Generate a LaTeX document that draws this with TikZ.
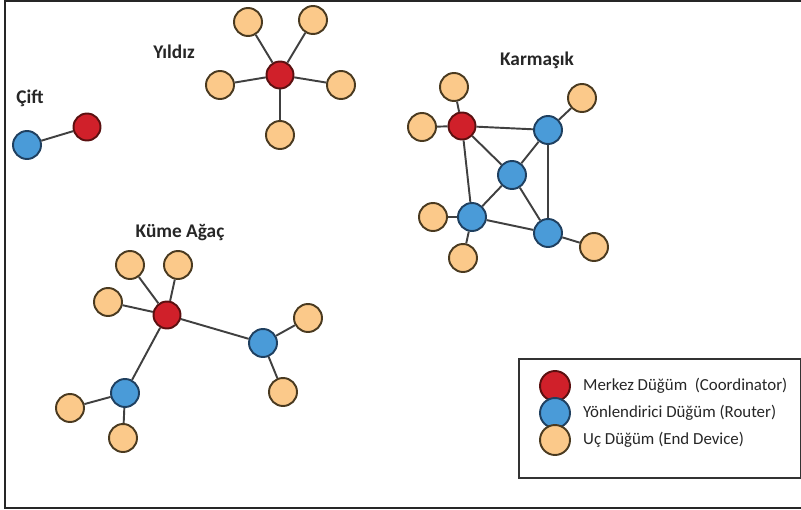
\documentclass[tikz,border=0pt]{standalone}
\usepackage{fontspec}
\setmainfont{Carlito}
\usepackage{tikz}
\usetikzlibrary{positioning}
\usepackage{xcolor}
\definecolor{zbCoord}{HTML}{D0202A}
\definecolor{zbCoordBorder}{HTML}{5A1010}
\definecolor{zbRouter}{HTML}{4A9BD8}
\definecolor{zbRouterBorder}{HTML}{1F4060}
\definecolor{zbEnd}{HTML}{FBC98A}
\definecolor{zbEndBorder}{HTML}{4A3A20}
\definecolor{zbLink}{HTML}{404040}
\tikzset{
    coord/.style={circle,draw=zbCoordBorder,fill=zbCoord,line width=1.1pt,minimum size=0.54cm,inner sep=0pt},
    router/.style={circle,draw=zbRouterBorder,fill=zbRouter,line width=1.1pt,minimum size=0.56cm,inner sep=0pt},
    enddev/.style={circle,draw=zbEndBorder,fill=zbEnd,line width=1.1pt,minimum size=0.56cm,inner sep=0pt},
    link/.style={draw=zbLink,line width=1.1pt},
    toplabel/.style={font=\bfseries\fontsize{11}{13}\selectfont,text=black!85}
}

\begin{document}
\begin{tikzpicture}[x=0.02cm,y=-0.02cm,
    legtext/.style={font=\fontsize{9.6}{12}\selectfont,anchor=west,text=black!85}]

\useasboundingbox (0,0) rectangle (801,510);
\draw[line width=1.2pt,black!85] (5,1) rectangle (804,508);

% Cift
\node[toplabel] at (30,98) (lblCift) {Çift};
\node[router] at (27,145) (ciftR) {};
\node[coord] at (87,127) (ciftC) {};
\draw[link] (ciftR) -- (ciftC);

% Yildiz
\node[toplabel] at (174,52) (lblYildiz) {Yıldız};
\node[coord] at (280,75) (yC) {};
\node[enddev] at (248,22) (yE1) {};
\node[enddev] at (313,20) (yE2) {};
\node[enddev] at (220,85) (yE3) {};
\node[enddev] at (341,85) (yE4) {};
\node[enddev] at (280,135) (yE5) {};
\foreach \e in {yE1,yE2,yE3,yE4,yE5}
    \draw[link] (yC) -- (\e);

% Karmasik
\node[toplabel] at (537,60) (lblKarma) {Karmaşık};
\node[coord] at (462,126) (kC) {};
\node[router] at (548,130) (kR1) {};
\node[router] at (512,175) (kR2) {};
\node[router] at (472,217) (kR3) {};
\node[router] at (548,233) (kR4) {};
\node[enddev] at (454,87) (kE1) {};
\node[enddev] at (422,127) (kE2) {};
\node[enddev] at (582,98) (kE3) {};
\node[enddev] at (433,217) (kE4) {};
\node[enddev] at (463,258) (kE5) {};
\node[enddev] at (594,247) (kE6) {};
\draw[link] (kC) -- (kE1);
\draw[link] (kC) -- (kE2);
\draw[link] (kC) -- (kR1);
\draw[link] (kC) -- (kR2);
\draw[link] (kC) -- (kR3);
\draw[link] (kR1) -- (kR2);
\draw[link] (kR1) -- (kR4);
\draw[link] (kR1) -- (kE3);
\draw[link] (kR2) -- (kR3);
\draw[link] (kR2) -- (kR4);
\draw[link] (kR3) -- (kR4);
\draw[link] (kR3) -- (kE4);
\draw[link] (kR3) -- (kE5);
\draw[link] (kR4) -- (kE6);

% Kume Agac
\node[toplabel] at (180,233) (lblKume) {Küme Ağaç};
\node[coord] at (167,315) (tC) {};
\node[router] at (263,343) (tR1) {};
\node[router] at (125,393) (tR2) {};
\node[enddev] at (130,265) (tE1) {};
\node[enddev] at (178,265) (tE2) {};
\node[enddev] at (108,302) (tE3) {};
\node[enddev] at (308,318) (tE4) {};
\node[enddev] at (283,392) (tE5) {};
\node[enddev] at (70,408) (tE6) {};
\node[enddev] at (123,438) (tE7) {};
\foreach \e in {tE1,tE2,tE3,tR1,tR2}
    \draw[link] (tC) -- (\e);
\draw[link] (tR1) -- (tE4);
\draw[link] (tR1) -- (tE5);
\draw[link] (tR2) -- (tE6);
\draw[link] (tR2) -- (tE7);

% Legend
\node[draw=black!80,line width=1pt,minimum width=5.64cm,minimum height=2.38cm,anchor=north west] at (518,358) (legend) {};
\node[coord,minimum size=0.6cm] at (555,386) (legC) {};
\node[router,minimum size=0.6cm] at (555,413) (legR) {};
\node[enddev,minimum size=0.6cm] at (555,440) (legE) {};
\node[legtext,right=0.12cm of legC] (legCtxt) {Merkez Düğüm\ \ (Coordinator)};
\node[legtext,right=0.12cm of legR] (legRtxt) {Yönlendirici Düğüm (Router)};
\node[legtext,right=0.12cm of legE] (legEtxt) {Uç Düğüm (End Device)};

\end{tikzpicture}
\end{document}
